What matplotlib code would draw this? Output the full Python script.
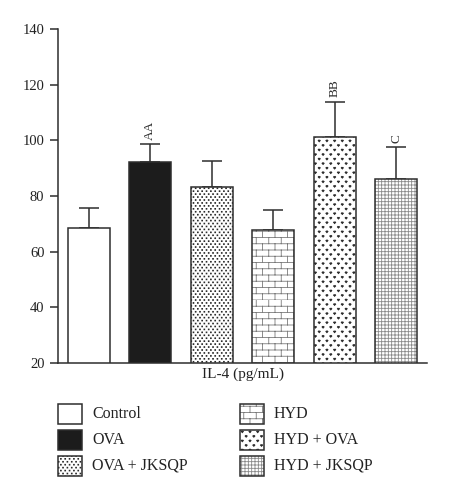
import warnings
import numpy as np
import matplotlib
matplotlib.use('Agg')
import matplotlib.pyplot as plt
import matplotlib.hatch as mhatch
from matplotlib.patches import Rectangle
from matplotlib.path import Path

warnings.filterwarnings('ignore')

groups = ['Control', 'OVA', 'OVA + JKSQP', 'HYD', 'HYD + OVA', 'HYD + JKSQP']
means = [68.6, 92.2, 83.4, 67.9, 101.2, 86.1]
errs = [7.1, 6.5, 9.1, 7.1, 12.7, 11.6]
marks = ['', 'AA', '', '', 'BB', 'C']

faces = ['white', '#1c1c1c', 'white', 'white', 'white', 'white']
hatches = [None, None, 'd', 'b', 'v', '+++++']
hatch_cols = ['#333333', '#1c1c1c', '#2a2a2a', '#7a7a7a', '#2a2a2a', '#8a8a8a']
dark = '#2e2e2e'


# brick pattern: rows of bricks, joints shifted every other row
class BrickHatch(mhatch.HatchPatternBase):
    def __init__(self, hatch, density):
        self.n = hatch.count('b') * 8
        self.num_vertices = 4 * self.n + 4 * self.n * self.n

    def set_vertices_and_codes(self, vertices, codes):
        n = self.n
        s = 1.0 / n
        segs = []
        for j in range(2 * n):
            segs.append(((0, j * s / 2), (1, j * s / 2)))
        for i in range(n):
            for j in range(n):
                x0, y0 = i * s, j * s
                segs.append(((x0, y0), (x0, y0 + s / 2)))
                segs.append(((x0 + s / 2, y0 + s / 2), (x0 + s / 2, y0 + s)))
        vertices[:] = np.array(segs).reshape(-1, 2)
        codes[0::2] = Path.MOVETO
        codes[1::2] = Path.LINETO


# small filled shapes on a staggered grid
class StaggeredHatch(mhatch.HatchPatternBase):
    char = ''
    nc, nr = 10, 10
    shape = [(0, 0)]

    def __init__(self, hatch, density):
        self.pts = []
        if self.char in hatch:
            for r in range(self.nr + 1):
                if r % 2 == 0:
                    xs = np.arange(self.nc + 1) / self.nc
                else:
                    xs = (np.arange(self.nc) + 0.5) / self.nc
                self.pts += [(xx, r / self.nr) for xx in xs]
        self.k = len(self.shape) + 1
        self.num_vertices = self.k * len(self.pts)

    def set_vertices_and_codes(self, vertices, codes):
        v = []
        for px, py in self.pts:
            v += [(px + sx, py + sy) for sx, sy in self.shape]
            v.append((px + self.shape[0][0], py + self.shape[0][1]))
        vertices[:] = np.array(v)
        codes[:] = Path.LINETO
        codes[0::self.k] = Path.MOVETO
        codes[self.k - 1::self.k] = Path.CLOSEPOLY


class DotHatch(StaggeredHatch):
    char = 'd'
    nc, nr = 23, 34
    shape = [(-0.004, -0.004), (0.004, -0.004), (0.004, 0.004), (-0.004, 0.004)]


class HeartHatch(StaggeredHatch):
    char = 'v'
    nc, nr = 13, 22
    shape = [(-0.011, 0.003), (-0.0055, 0.009), (0, 0.0045), (0.0055, 0.009),
             (0.011, 0.003), (0, -0.009)]


mhatch._hatch_types += [BrickHatch, DotHatch, HeartHatch]

plt.rcParams['font.family'] = ['Liberation Serif', 'DejaVu Serif']
plt.rcParams['hatch.linewidth'] = 0.6

fig = plt.figure(figsize=(4.51, 5), dpi=100)
ax = fig.add_axes([58 / 451, 1 - 363 / 500, 369 / 451, 334 / 500])

x = np.arange(len(groups))
width = 0.68
ax.bar(x, means, width, color=faces, edgecolor=hatch_cols,
       hatch=hatches, linewidth=0, zorder=2)
ax.bar(x, means, width, color='none', edgecolor=dark, linewidth=1.1, zorder=3)
ax.errorbar(x, means, yerr=[np.zeros(len(errs)), errs], fmt='none',
            ecolor=dark, elinewidth=1.1, capsize=7.2, capthick=1.1, zorder=1)

for xi, m, e, t in zip(x, means, errs, marks):
    if t:
        ax.annotate(t, (xi, m + e), xytext=(0, 3), textcoords='offset points',
                    rotation=90, ha='center', va='bottom', fontsize=9.5, color=dark)

ax.set_xlim(-0.5, 5.5)
ax.set_ylim(20, 140)
ax.set_yticks(np.arange(20, 141, 20))
ax.set_xticks([])
ax.tick_params(axis='y', length=5.8, width=1.1, color=dark, labelsize=10.5,
               labelcolor='#222222', pad=4)
for side in ['top', 'right']:
    ax.spines[side].set_visible(False)
for side in ['left', 'bottom']:
    ax.spines[side].set_color(dark)
    ax.spines[side].set_linewidth(1.1)
ax.set_xlabel('IL-4 (pg/mL)', fontsize=11, color='#222222', labelpad=3)

# legend, two columns of three swatches
W, H = 451.0, 500.0
for i, (g, f, h, hc) in enumerate(zip(groups, faces, hatches, hatch_cols)):
    lx = [58, 240][i // 3]
    ly = 404 + 26 * (i % 3)
    box = (lx / W, 1 - (ly + 20) / H)
    fig.add_artist(Rectangle(box, 24 / W, 20 / H, transform=fig.transFigure,
                             facecolor=f, edgecolor=hc, hatch=h, linewidth=0))
    fig.add_artist(Rectangle(box, 24 / W, 20 / H, transform=fig.transFigure,
                             facecolor='none', edgecolor=dark, linewidth=1.1))
    fig.text((lx + 34) / W, 1 - (ly + 10) / H, g, fontsize=11.5,
             color='#222222', va='center', ha='left')

fig.savefig('out.png', dpi=100)
